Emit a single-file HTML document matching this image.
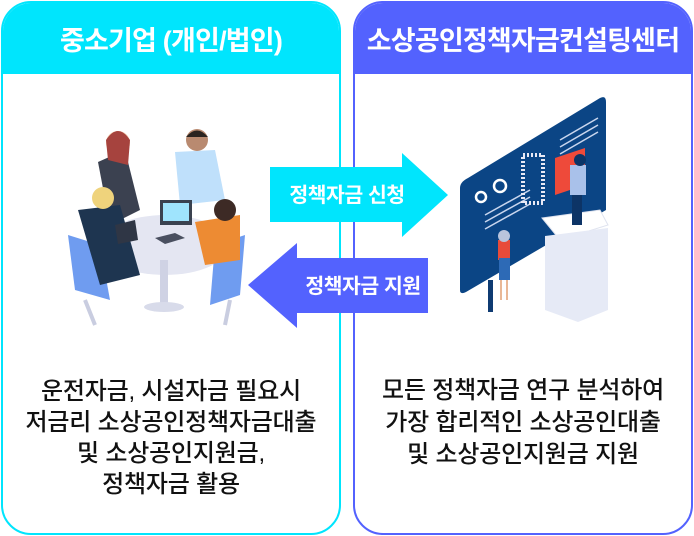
<!DOCTYPE html>
<html><head><meta charset="utf-8"><style>
body{margin:0;width:694px;height:536px;background:#fff;position:relative;overflow:hidden;font-family:"Liberation Sans","Noto Sans CJK KR",sans-serif}
.p{position:absolute;top:1px;height:534px;border:2px solid;border-radius:30px;overflow:hidden;box-sizing:border-box}
.h{height:71px;color:#fff;font-weight:bold;font-size:27px;text-align:center;line-height:76px;letter-spacing:-0.8px}
.t{position:absolute;top:373px;width:100%;text-align:center;font-size:24px;line-height:31px;color:#111;font-weight:500;letter-spacing:-0.2px}
svg{position:absolute;left:0;top:0}
</style></head><body>
<div class="p" style="left:1px;width:340px;border-color:#00e5fd"><div class="h" style="background:#00e5fd">중소기업 (개인/법인)</div>
<div class="t">운전자금, 시설자금 필요시<br>저금리 소상공인정책자금대출<br>및 소상공인지원금,<br>정책자금 활용</div></div>
<div class="p" style="left:353px;width:340px;border-color:#5362fe"><div class="h" style="background:#5362fe">소상공인정책자금컨설팅센터</div>
<div class="t" style="top:372px;line-height:32px">모든 정책자금 연구 분석하여<br>가장 합리적인 소상공인대출<br>및 소상공인지원금 지원</div></div>
<svg width="694" height="536">
<ellipse cx="165" cy="245" rx="64" ry="30" fill="#e4e6f2"/>
<rect x="160" y="260" width="8" height="45" fill="#cfd2e4"/>
<ellipse cx="164" cy="307" rx="20" ry="5" fill="#d8dbea"/>
<path d="M68 235 L100 245 L110 300 L75 290Z" fill="#6f9cf0"/>
<path d="M215 245 L245 235 L240 295 L210 305Z" fill="#6f9cf0"/>
<path d="M98 162 L125 150 L140 210 L110 225Z" fill="#3b4150"/>
<circle cx="118" cy="143" r="12" fill="#f2c6a8"/><path d="M106 140 Q118 122 130 140 L128 165 L108 160Z" fill="#a6433e"/>
<path d="M175 152 L215 150 L225 200 L180 205Z" fill="#bfe0fb"/><circle cx="197" cy="140" r="11" fill="#b98a70"/><path d="M186 137 Q197 124 208 137Z" fill="#2a2420"/>
<path d="M78 210 L120 205 L140 275 L100 285Z" fill="#1e3550"/><circle cx="103" cy="198" r="11" fill="#efd37c"/>
<path d="M195 222 L240 215 L240 260 L205 265Z" fill="#ed8b33"/><circle cx="225" cy="210" r="11" fill="#3d2a25"/>
<rect x="160" y="200" width="32" height="25" fill="#3a4250"/><rect x="163" y="203" width="26" height="18" fill="#9fe4fd"/>
<path d="M115 225 L135 220 L138 240 L118 244Z" fill="#2f3645"/>
<path d="M155 238 L175 233 L185 238 L165 244Z" fill="#4a5060"/>
<path d="M85 300 L95 325 M230 300 L225 325" stroke="#c9cde0" stroke-width="4"/>
<path d="M270 167 H402 V153 L448 195 L402 237 V222 H270Z" fill="#00e5fd"/>
<path d="M428 258 H297 V243 L248 285 L297 328 V313 H428Z" fill="#5362fe"/>
<text x="347" y="202" fill="#fff" font-size="20.5" font-weight="bold" text-anchor="middle" letter-spacing="-0.5">정책자금 신청</text>
<text x="363" y="293" fill="#fff" font-size="20.5" font-weight="bold" text-anchor="middle" letter-spacing="-0.5">정책자금 지원</text>
<rect x="488" y="280" width="5" height="32" fill="#0f3b72"/>
<path d="M468 178 L600 98 Q606 95 606 102 L606 210 L466 292 Q460 295 460 290 L460 188 Q460 182 468 178Z" fill="#0b4585"/>
<path d="M485 215 L530 190 M485 222 L530 197 M485 229 L530 204 M560 140 L598 118 M560 147 L598 125 M560 154 L598 132" stroke="#c9d6ee" stroke-width="1.5"/>
<circle cx="481" cy="197" r="5" fill="none" stroke="#fff" stroke-width="2.5"/><circle cx="500" cy="186" r="6" fill="none" stroke="#fff" stroke-width="2.5"/>
<rect x="523" y="155" width="20" height="48" fill="none" stroke="#e9e9f5" stroke-width="4" stroke-dasharray="2 2"/>
<path d="M555 158 L585 148 L585 185 L555 195Z" fill="#ee4a3a"/>
<path d="M542 218 L600 210 L608 225 L560 240Z" fill="#fff" stroke="#dfe3ef"/>
<path d="M545 236 L608 228 L608 310 L578 322 L545 310Z" fill="#e6eaf6"/>
<rect x="570" y="165" width="16" height="30" fill="#a9c1ea"/><circle cx="580" cy="160" r="6" fill="#0a3568"/><rect x="572" y="195" width="10" height="30" fill="#0d3466"/>
<rect x="498" y="240" width="12" height="20" fill="#e84b3a"/><rect x="499" y="258" width="11" height="22" fill="#2d6ab6"/><circle cx="504" cy="236" r="6" fill="#b9c4dc"/>
<rect x="500" y="280" width="2" height="20" fill="#e9b896"/><rect x="506" y="280" width="2" height="20" fill="#e9b896"/>
</svg>
</body></html>
